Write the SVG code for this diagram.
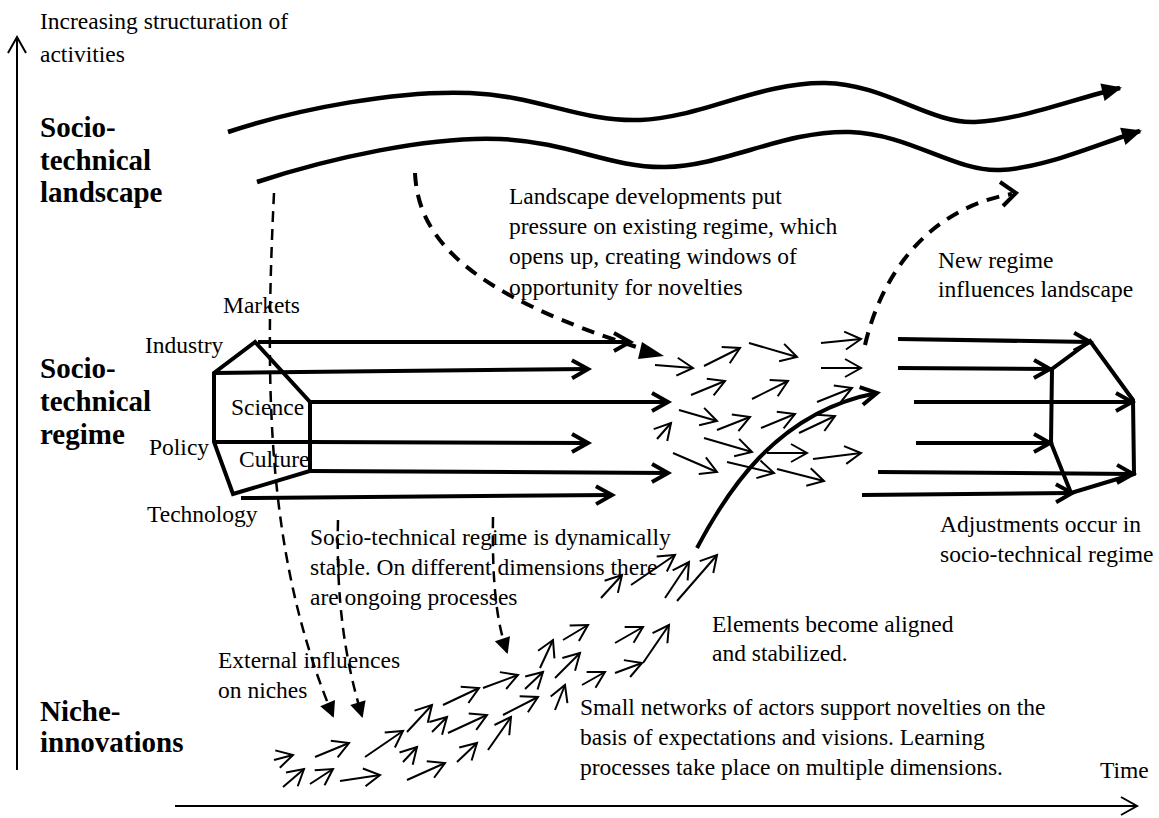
<svg xmlns="http://www.w3.org/2000/svg" width="1159" height="818" viewBox="0 0 1159 818">
<style>
  text { font-family: "Liberation Serif", "Times New Roman", serif; font-size: 23.5px; fill: #000; }
  .lvl { font-weight: bold; font-size: 29px; }
  .ax { stroke: #000; stroke-width: 2; fill: none; }
  .wave { stroke: #000; stroke-width: 4.5; fill: none; marker-end: url(#solid); }
  .beam { stroke: #000; stroke-width: 4; fill: none; marker-end: url(#bold); }
  .edge { stroke: #000; stroke-width: 4; fill: none; stroke-linejoin: miter; }
  .small { stroke: #000; stroke-width: 2; fill: none; marker-end: url(#thin); }
  .dashbig { stroke: #000; stroke-width: 4; fill: none; stroke-dasharray: 13 9; }
  .dashthin { stroke: #000; stroke-width: 2.5; fill: none; stroke-dasharray: 11 7; marker-end: url(#solidsm); }
</style>
<defs>
  <marker id="thin" markerUnits="userSpaceOnUse" viewBox="0 0 18 20" markerWidth="18" markerHeight="20" refX="17" refY="10" orient="auto" overflow="visible">
    <path d="M1,1 L17,10 L1,19" fill="none" stroke="#000" stroke-width="2"/>
  </marker>
  <marker id="bold" markerUnits="userSpaceOnUse" viewBox="0 0 20 22" markerWidth="20" markerHeight="22" refX="18" refY="11" orient="auto" overflow="visible">
    <path d="M2,2 L18,11 L2,20" fill="none" stroke="#000" stroke-width="4"/>
  </marker>
  <marker id="solid" markerUnits="userSpaceOnUse" viewBox="0 0 20 18" markerWidth="20" markerHeight="18" refX="18" refY="9" orient="auto" overflow="visible">
    <path d="M0,0 L20,9 L0,18 Z" fill="#000"/>
  </marker>
  <marker id="solidsm" markerUnits="userSpaceOnUse" viewBox="0 0 16 16" markerWidth="16" markerHeight="16" refX="14" refY="8" orient="auto" overflow="visible">
    <path d="M0,0 L16,8 L0,16 Z" fill="#000"/>
  </marker>
</defs>

<rect width="1159" height="818" fill="#fff"/>

<!-- axes -->
<g id="axes">
  <path class="ax" d="M17,770 L17,38"/>
  <path class="ax" d="M8,53 L17,37 L26,53"/>
  <path class="ax" d="M175,806 L1137,806"/>
  <path class="ax" d="M1121,797 L1137,806 L1121,815"/>
  <text x="40" y="29">Increasing structuration of</text>
  <text x="40" y="62">activities</text>
  <text x="1100" y="778">Time</text>
</g>

<!-- level names -->
<g id="levels">
  <text class="lvl" x="40" y="137">Socio-</text>
  <text class="lvl" x="40" y="170">technical</text>
  <text class="lvl" x="40" y="202">landscape</text>
  <text class="lvl" x="40" y="378">Socio-</text>
  <text class="lvl" x="40" y="411">technical</text>
  <text class="lvl" x="40" y="444">regime</text>
  <text class="lvl" x="40" y="721">Niche-</text>
  <text class="lvl" x="40" y="752">innovations</text>
</g>

<!-- landscape waves -->
<g id="landscape">
  <path class="wave" d="M228,132 C300,108 400,90 470,93 C540,96 580,122 640,120 C700,118 760,82 825,83 C885,84 930,124 975,122 C1020,120 1070,100 1120,88"/>
  <path class="wave" d="M257,182 C330,158 430,136 500,139 C570,142 610,168 665,167 C725,166 785,130 850,132 C910,134 955,172 1000,170 C1045,168 1095,145 1140,131"/>
</g>

<!-- existing regime: hexagon with dimensions -->
<g id="regime-old">
  <path class="edge" d="M255,342 L214,373 L214,442 L233,494 L310,471 L310,402 Z"/>
  <path class="edge" d="M214,442 L310,442"/>
  <text x="223" y="313">Markets</text>
  <text x="145" y="353">Industry</text>
  <text x="231" y="415">Science</text>
  <text x="149" y="455">Policy</text>
  <text x="239" y="467">Culture</text>
  <text x="147" y="522">Technology</text>
</g>

<!-- adjusted regime -->
<g id="regime-new">
  <path class="edge" d="M1090,341 L1133,400 L1134,474 L1071,493 L1051,443 L1052,369 Z"/>
</g>

<!-- annotations -->
<g id="notes">
  <text x="509" y="204">Landscape developments put</text>
  <text x="509" y="234">pressure on existing regime, which</text>
  <text x="509" y="264">opens up, creating windows of</text>
  <text x="509" y="295">opportunity for novelties</text>
  <text x="938" y="268">New regime</text>
  <text x="938" y="297">influences landscape</text>
  <text x="940" y="532">Adjustments occur in</text>
  <text x="940" y="562">socio-technical regime</text>
  <text x="310" y="545">Socio-technical regime is dynamically</text>
  <text x="310" y="575">stable. On different dimensions there</text>
  <text x="310" y="605">are ongoing processes</text>
  <text x="218" y="668">External influences</text>
  <text x="218" y="698">on niches</text>
  <text x="712" y="632">Elements become aligned</text>
  <text x="712" y="661">and stabilized.</text>
  <text x="580" y="715">Small networks of actors support novelties on the</text>
  <text x="580" y="745">basis of expectations and visions. Learning</text>
  <text x="580" y="775">processes take place on multiple dimensions.</text>
</g>

<!-- connectors -->
<g id="connectors">
  <!-- regime trajectories, left -->
  <path class="beam" d="M258,342 L630,342"/>
  <path class="beam" d="M214,373 L588,369"/>
  <path class="beam" d="M310,402 L668,402"/>
  <path class="beam" d="M310,442 L588,443"/>
  <path class="beam" d="M310,471 L668,473"/>
  <path class="beam" d="M241,498 L612,495"/>
  <!-- regime trajectories, right -->
  <path class="beam" d="M898,339 L1090,342"/>
  <path class="beam" d="M898,368 L1050,369"/>
  <path class="beam" d="M914,402 L1132,402"/>
  <path class="beam" d="M916,443 L1050,443"/>
  <path class="beam" d="M878,472 L1133,474"/>
  <path class="beam" d="M862,495 L1072,493"/>

  <!-- landscape pressure -->
  <path class="dashbig" d="M415,173 C418,240 470,295 646,350"/>
  <path d="M642,342 L664,356 L638,359 Z" fill="#000"/>
  <!-- new regime back to landscape -->
  <path class="dashbig" d="M865,345 C882,272 930,208 1012,194"/>
  <path class="edge" d="M1000,182 L1016,193 L1003,206" stroke-width="4"/>

  <!-- landscape to niches -->
  <path class="dashthin" d="M274,193 C264,400 268,560 333,716"/>
  <path class="dashthin" d="M338,520 C336,600 345,660 362,716"/>
  <path class="dashthin" d="M493,517 C492,580 496,620 507,652"/>

  <!-- breakthrough -->
  <path class="beam" d="M697,548 C725,495 775,412 877,393"/>

  <!-- regime turbulence -->
  <path class="small" d="M655,365 L693,368"/>
  <path class="small" d="M704,366 L740,348"/>
  <path class="small" d="M749,343 L797,357"/>
  <path class="small" d="M821,343 L861,339"/>
  <path class="small" d="M821,368 L861,368"/>
  <path class="small" d="M691,395 L725,381"/>
  <path class="small" d="M752,399 L788,381"/>
  <path class="small" d="M817,402 L852,388"/>
  <path class="small" d="M679,410 L717,421"/>
  <path class="small" d="M717,430 L750,417"/>
  <path class="small" d="M761,428 L795,414"/>
  <path class="small" d="M799,433 L835,416"/>
  <path class="small" d="M657,439 L671,423"/>
  <path class="small" d="M704,438 L752,452"/>
  <path class="small" d="M767,453 L807,453"/>
  <path class="small" d="M813,459 L861,453"/>
  <path class="small" d="M673,453 L717,472"/>
  <path class="small" d="M727,462 L774,473"/>
  <path class="small" d="M777,469 L824,481"/>

  <!-- niche activity -->
  <path class="small" d="M274,760 L293,755"/>
  <path class="small" d="M283,787 L304,769"/>
  <path class="small" d="M310,784 L333,769"/>
  <path class="small" d="M315,757 L349,743"/>
  <path class="small" d="M340,781 L380,775"/>
  <path class="small" d="M365,757 L403,731"/>
  <path class="small" d="M407,780 L445,763"/>
  <path class="small" d="M403,762 L417,747"/>
  <path class="small" d="M407,732 L432,705"/>
  <path class="small" d="M432,732 L447,717"/>
  <path class="small" d="M448,733 L487,715"/>
  <path class="small" d="M443,705 L479,688"/>
  <path class="small" d="M457,762 L477,743"/>
  <path class="small" d="M488,750 L511,717"/>
  <path class="small" d="M483,688 L518,675"/>
  <path class="small" d="M503,715 L538,697"/>
  <path class="small" d="M525,689 L543,672"/>
  <path class="small" d="M540,668 L553,640"/>
  <path class="small" d="M555,710 L565,685"/>
  <path class="small" d="M555,678 L580,653"/>
  <path class="small" d="M563,640 L588,625"/>
  <path class="small" d="M582,685 L605,672"/>
  <path class="small" d="M615,673 L642,663"/>
  <path class="small" d="M615,643 L643,627"/>
  <path class="small" d="M643,663 L669,625"/>
  <path class="small" d="M601,598 L622,575"/>
  <path class="small" d="M631,585 L675,555"/>
  <path class="small" d="M665,598 L689,562"/>
  <path class="small" d="M677,601 L717,555"/>
</g>
</svg>
